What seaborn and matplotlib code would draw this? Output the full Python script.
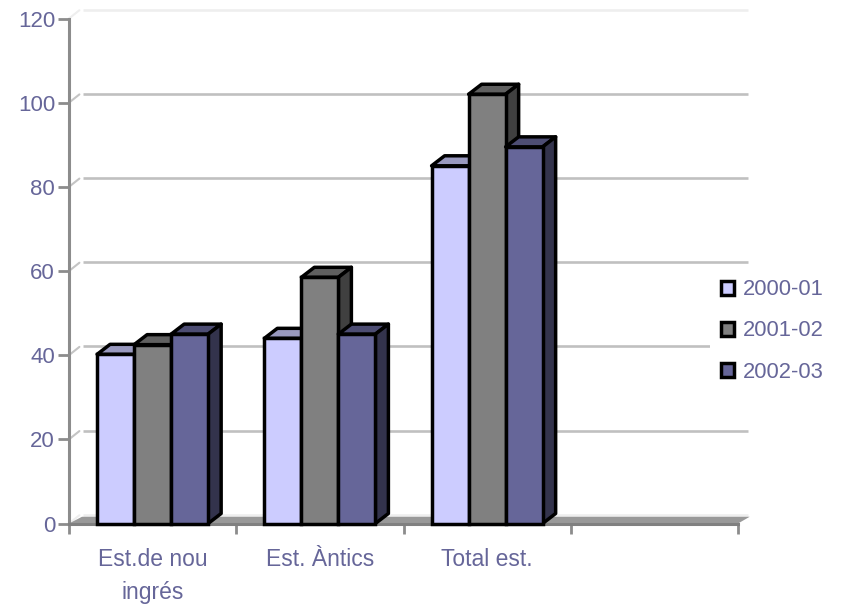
import seaborn as sns
import matplotlib.pyplot as plt
import pandas as pd
import numpy as np
from matplotlib.patches import Patch, Polygon

categories = ["Est.de nou\ningrés", "Est. Àntics", "Total est."]
years = ["2000-01", "2001-02", "2002-03"]
values_2000 = [40.2, 44, 85]
values_2001 = [42.5, 58.5, 102]
values_2002 = [45, 45, 89.5]
yticks = [0, 20, 40, 60, 80, 100, 120]

front_colors = ["#CCCCFF", "#808080", "#666699"]
top_colors = ["#9999BF", "#606060", "#4D4D73"]
side_colors = ["#66667F", "#404040", "#33334C"]
text_color = "#666699"
axis_color = "#8C8C8C"

df = pd.DataFrame({
    "cat": categories * 3,
    "year": np.repeat(years, 3),
    "val": values_2000 + values_2001 + values_2002,
})

sns.set_style("white")
plt.rcParams["font.family"] = ["Liberation Sans", "DejaVu Sans"]

fig = plt.figure(figsize=(8.41, 6.04), dpi=100)
ax = fig.add_axes([69 / 841, 1 - 523.5 / 604, 669 / 841, 505 / 604])

# empty fourth slot is on purpose, the original leaves it blank
sns.barplot(data=df, x="cat", y="val", hue="year", order=categories + [""],
            hue_order=years, palette=front_colors, width=0.664, gap=0,
            saturation=1, edgecolor="black", linewidth=2.5, legend=False,
            zorder=5, ax=ax)
ax.set_xlim(-0.5, 3.5)
ax.set_ylim(0, 120)
ax.set_xlabel("")
ax.set_ylabel("")

# 3d depth in data units
dx = 13 / (669 / 4)
dy = 8.7 / (505 / 120)
bar_dy = 10 / (505 / 120)

# back wall grid
for t in yticks:
    c = "#EEEEEE" if t in (0, 120) else "#C0C0C0"
    ax.plot([-0.5 + dx * 1.05, 3.5 + dx * 0.8], [t + dy, t + dy], color=c, lw=1.9,
            clip_on=False, zorder=1, solid_capstyle="butt")
    ax.plot([-0.5, -0.5 + dx * 0.8], [t, t + dy * 0.95],
            color="#EEEEEE" if t in (0, 120) else "#C4C4C4", lw=1.5,
            clip_on=False, zorder=1)

# floor slab
floor = Polygon([(-0.5, 0), (3.5, 0), (3.5 + dx * 0.9, 1.6), (-0.5 + dx, 1.6)],
                closed=True, fc="#999999", ec="none", clip_on=False, zorder=2)
ax.add_patch(floor)

# side and top faces of every bar, left bars under right ones
for i, cont in enumerate(ax.containers):
    for j, bar in enumerate(cont):
        h = bar.get_height()
        if not np.isfinite(h) or h == 0:
            continue
        x0 = bar.get_x()
        x1 = x0 + bar.get_width()
        z = 5 + j * 3 + i
        bar.set_zorder(z + 0.5)
        bar.set_clip_on(False)
        top = Polygon([(x0, h), (x1, h), (x1 + dx, h + bar_dy), (x0 + dx, h + bar_dy)],
                      fc=top_colors[i], ec="black", lw=2.5, joinstyle="round",
                      clip_on=False, zorder=z)
        side = Polygon([(x1, 0), (x1 + dx, bar_dy), (x1 + dx, h + bar_dy), (x1, h)],
                       fc=side_colors[i], ec="black", lw=2.5, joinstyle="round",
                       clip_on=False, zorder=z)
        ax.add_patch(top)
        ax.add_patch(side)

sns.despine(ax=ax, top=True, right=True)
ax.spines["left"].set_color(axis_color)
ax.spines["left"].set_linewidth(2.2)
ax.spines["bottom"].set_color("#808080")
ax.spines["bottom"].set_linewidth(2.2)
ax.spines["bottom"].set_zorder(3)

ax.set_yticks(yticks)
ax.tick_params(axis="y", left=True, length=8, width=2, color=axis_color,
               labelcolor=text_color, labelsize=16, pad=2)
# labels sit under the slots, the tick marks go on the slot edges
ax.set_xticks(np.arange(-0.5, 4), minor=True)
ax.tick_params(axis="x", which="minor", bottom=True, length=7.5, width=2, color=axis_color)
ax.tick_params(axis="x", which="major", bottom=False, length=0, pad=18,
               labelcolor=text_color, labelsize=16.5)
for lab in ax.get_xticklabels():
    lab.set_linespacing(1.52)

handles = [Patch(fc=c, ec="black", lw=2.5, label=y) for c, y in zip(front_colors, years)]
leg = ax.legend(handles=handles, loc="center left", bbox_to_anchor=(710 / 841, 1 - 331 / 604),
                bbox_transform=fig.transFigure, borderaxespad=0, fontsize=15.8,
                labelcolor=text_color, frameon=True, facecolor="white", edgecolor="none",
                framealpha=1, fancybox=False, handlelength=0.6, handleheight=0.6,
                handletextpad=0.42, labelspacing=0.92, borderpad=0.5)
leg.set_zorder(20)

fig.savefig("out.png", dpi=100)
